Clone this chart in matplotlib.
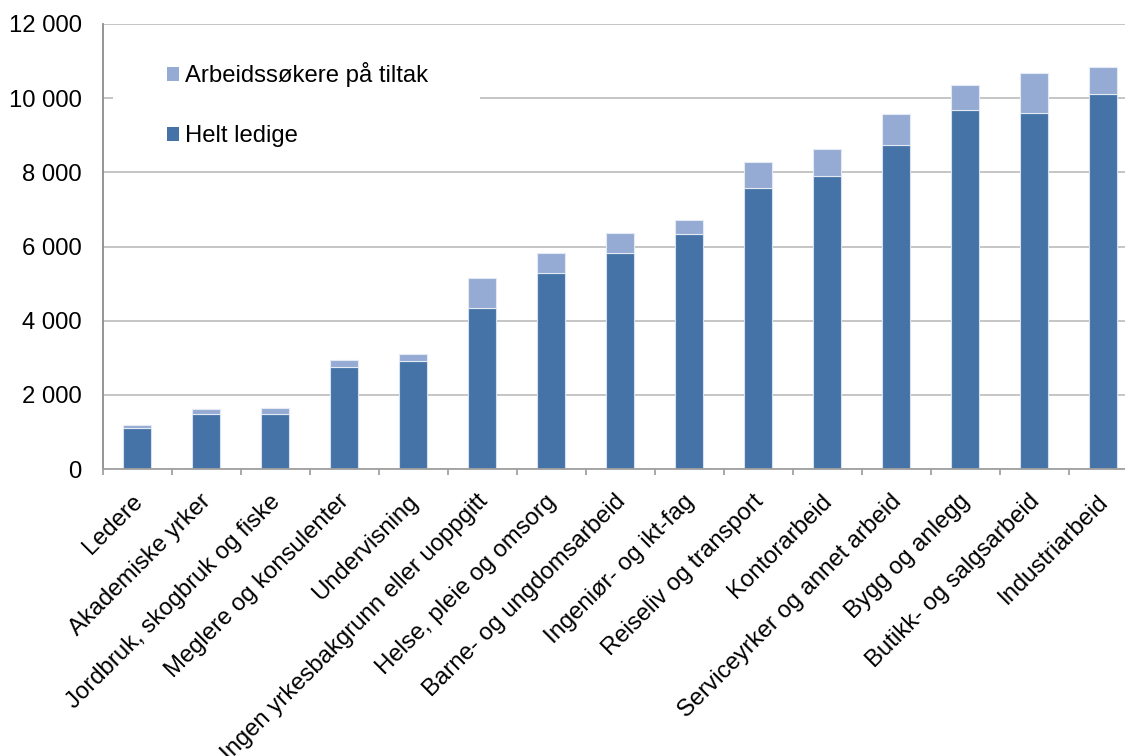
import matplotlib
matplotlib.use("Agg")
import matplotlib.pyplot as plt
from matplotlib.patches import Patch, Rectangle
from matplotlib.ticker import FuncFormatter, FixedLocator
from matplotlib.transforms import ScaledTranslation
import numpy as np

plt.rcParams['font.family'] = ['Liberation Sans', 'DejaVu Sans']

# Yrkesgrupper (x-akse)
categories = [
    'Ledere',
    'Akademiske yrker',
    'Jordbruk, skogbruk og fiske',
    'Meglere og konsulenter',
    'Undervisning',
    'Ingen yrkesbakgrunn eller uoppgitt',
    'Helse, pleie og omsorg',
    'Barne- og ungdomsarbeid',
    'Ingeniør- og ikt-fag',
    'Reiseliv og transport',
    'Kontorarbeid',
    'Serviceyrker og annet arbeid',
    'Bygg og anlegg',
    'Butikk- og salgsarbeid',
    'Industriarbeid',
]

# Antall personer, lest av figuren
helt_ledige = [1110, 1490, 1490, 2755, 2920, 4350, 5295, 5830, 6340,
               7570, 7905, 8735, 9685, 9605, 10115]
paa_tiltak = [78, 127, 160, 183, 172, 792, 521, 545, 372,
              705, 728, 834, 674, 1075, 721]

y_ticks = [0, 2000, 4000, 6000, 8000, 10000, 12000]

DARK = '#4573A7'
LIGHT = '#95ABD3'
FS = 17.2

fig = plt.figure(figsize=(11.25, 7.56), dpi=100)
# axes run past the right edge, like the cropped original
ax = fig.add_axes([102.7 / 1125, 1 - 469 / 756, 1035 / 1125, 445 / 756])

x = np.arange(len(categories))
ax.bar(x, helt_ledige, width=0.4, color=DARK, edgecolor='#d6e0ee',
       linewidth=0.8, zorder=2)
ax.bar(x, paa_tiltak, width=0.4, bottom=helt_ledige, color=LIGHT,
       edgecolor='#e3eaf4', linewidth=0.8, zorder=2)

ax.set_xlim(-0.5, len(categories) - 0.5)
ax.set_ylim(0, 12000)

# y-axis
ax.set_yticks(y_ticks)
ax.yaxis.set_major_formatter(FuncFormatter(lambda v, p: f"{int(v):,}".replace(",", " ")))
ax.tick_params(axis='y', length=0, pad=15, labelsize=FS)
ax.grid(axis='y', color='#c0c0c0', linewidth=1.3)
ax.set_axisbelow(True)

# x-axis: labels at centres, tick marks at boundaries
ax.set_xticks(x)
ax.set_xticklabels(categories, rotation=45, ha='right', va='top',
                   rotation_mode='anchor', fontsize=FS)
ax.tick_params(axis='x', which='major', length=0, pad=14)
shift = ScaledTranslation(-6 / 100, -2 / 100, fig.dpi_scale_trans)
for lab in ax.get_xticklabels():
    lab.set_transform(lab.get_transform() + shift)
ax.xaxis.set_minor_locator(FixedLocator(np.arange(-0.5, len(categories), 1.0)))
ax.tick_params(axis='x', which='minor', length=4.5, width=1.2,
               color='#999999', direction='out')

for side in ['top', 'right']:
    ax.spines[side].set_visible(False)
ax.spines['left'].set_color('#8c8c8c')
ax.spines['left'].set_linewidth(1.3)
ax.spines['bottom'].set_color('#a0a0a0')
ax.spines['bottom'].set_linewidth(1.3)

# white box behind the legend hides the gridline
ax.add_patch(Rectangle((0.01, 0.683), 0.355, 0.27, transform=ax.transAxes,
                       facecolor='white', edgecolor='none', zorder=1))

handles = [Patch(facecolor=LIGHT), Patch(facecolor=DARK)]
ax.legend(handles, ['Arbeidssøkere på tiltak', 'Helt ledige'],
          loc='upper left', bbox_to_anchor=(0.0618, 0.914), frameon=False,
          fontsize=FS, borderpad=0, borderaxespad=0, handlelength=0.53,
          handleheight=0.53, handletextpad=0.25, labelspacing=1.6)

fig.savefig('out.png', dpi=100, facecolor='white')
